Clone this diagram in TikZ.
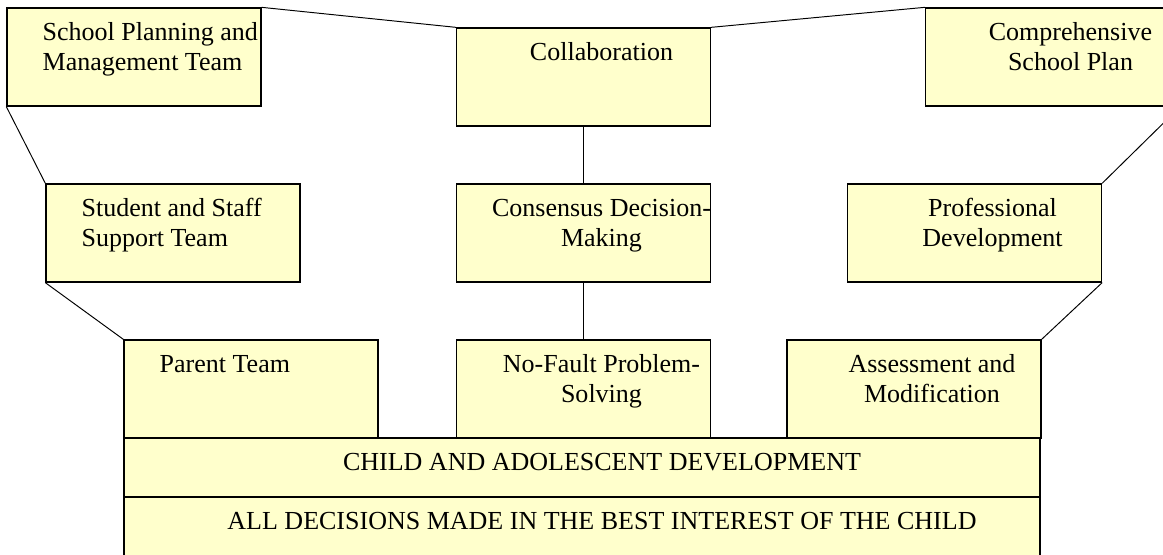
\documentclass[tikz,border=0pt]{standalone}
\usepackage{fontspec}
\setmainfont{Liberation Serif}
\usepackage{tikz}
\usetikzlibrary{positioning}
\definecolor{paleyellow}{HTML}{FFFFCC}

\begin{document}
\begin{tikzpicture}[
    every node/.style={font=\fontsize{14.8}{17}\selectfont},
    box/.style={
        rectangle,
        draw=black,
        fill=paleyellow,
        line width=0.75pt,
        minimum width=5.08cm,
        minimum height=1.96cm,
        inner sep=0pt
    },
    band/.style={box, minimum width=18.32cm, minimum height=1.18cm},
    midtext/.style={anchor=base, text width=5cm, align=flush center, inner sep=0pt, xshift=0.36cm, yshift=-0.66cm},
    lefttext/.style={anchor=base west, text width=5cm, align=flush left, inner sep=0pt, xshift=0.72cm, yshift=-0.66cm},
    link/.style={line width=0.55pt, color=black}
]

\useasboundingbox (0,0) rectangle (23.26,11.08);

% TOP ROW
\node[box, label={[lefttext]north west:School Planning and\\Management Team}] (spmt) at (2.68, 9.94) {};
\node[box, label={[midtext]north:Collaboration}] (collab) at (11.67, 9.54) {};
\node[box, label={[midtext]north:Comprehensive\\School Plan}] (plan) at (21.05, 9.94) {};

% MIDDLE ROW
\node[box, label={[lefttext]north west:Student and Staff\\Support Team}] (support) at (3.46, 6.42) {};
\node[box, label={[midtext]north:Consensus Decision-\\Making}] (consensus) at (11.67, 6.42) {};
\node[box, label={[midtext]north:Professional\\Development}] (profdev) at (19.49, 6.42) {};

% LOWER ROW
\node[box, label={[lefttext]north west:Parent Team}] (parent) at (5.02, 3.30) {};
\node[box, label={[midtext]north:No-Fault Problem-\\Solving}] (nofault) at (11.67, 3.30) {};
\node[box, label={[midtext]north:Assessment and\\Modification}] (assess) at (18.28, 3.30) {};

% FOUNDATION
\node[band, label={[midtext, text width=17cm, xshift=0.04cm]north:CHILD AND ADOLESCENT DEVELOPMENT}] (child) at (11.64, 1.73) {};
\node[band, label={[midtext, text width=17cm, xshift=0.04cm]north:ALL DECISIONS MADE IN THE BEST INTEREST OF THE CHILD}] (best) at (11.64, 0.55) {};

% LINKS
\draw[link] (spmt.north east) -- (collab.north west);
\draw[link] (collab.north east) -- (plan.north west);
\draw[link] (collab.south) -- (consensus.north);
\draw[link] (consensus.south) -- (nofault.north);
\draw[link] (spmt.south west) -- (support.north west);
\draw[link] (support.south west) -- (parent.north west);
\draw[link] (plan.south east) -- (profdev.north east);
\draw[link] (profdev.south east) -- (assess.north east);

\end{tikzpicture}
\end{document}
